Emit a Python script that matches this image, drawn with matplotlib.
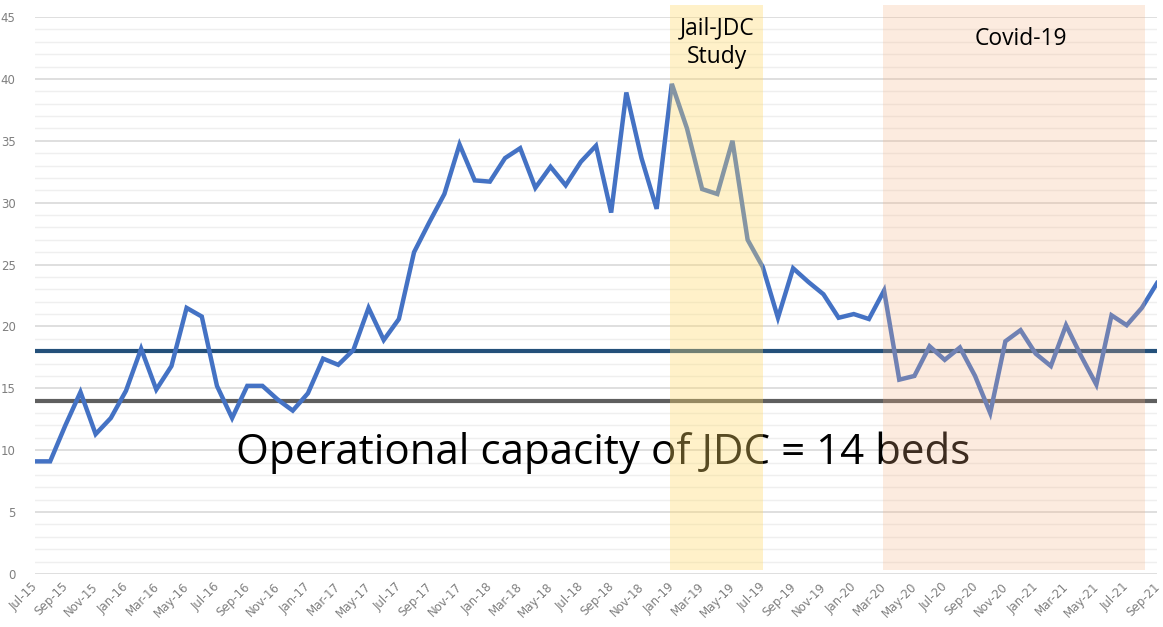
import numpy as np
import matplotlib
matplotlib.use('Agg')
import matplotlib.pyplot as plt
from matplotlib.patches import Rectangle
from matplotlib.ticker import MultipleLocator

# monthly counts, Jul-15 .. Sep-21
months = ['Jul', 'Aug', 'Sep', 'Oct', 'Nov', 'Dec', 'Jan', 'Feb', 'Mar', 'Apr', 'May', 'Jun']
labels = []
for k in range(75):
    m = months[k % 12]
    yr = 15 + (k + 6) // 12
    labels.append(f'{m}-{yr}')

values = [9.1, 9.1, 12.0, 14.7, 11.3, 12.6, 14.8, 18.2, 14.9, 16.8,
          21.5, 20.8, 15.2, 12.6, 15.2, 15.2, 14.1, 13.2, 14.6, 17.4,
          16.9, 18.1, 21.5, 18.9, 20.6, 26.0, 28.4, 30.7, 34.7, 31.8,
          31.7, 33.6, 34.4, 31.2, 32.9, 31.4, 33.3, 34.6, 29.2, 38.9,
          33.6, 29.5, 39.6, 36.0, 31.1, 30.7, 35.0, 27.0, 24.8, 20.7,
          24.7, 23.6, 22.6, 20.7, 21.0, 20.6, 22.9, 15.7, 16.0, 18.4,
          17.3, 18.3, 16.0, 13.0, 18.8, 19.7, 17.8, 16.8, 20.1, 17.6,
          15.3, 20.9, 20.1, 21.5, 23.5]

threshold_line = 18
capacity = 14
study_span = (41.9, 48.0)
covid_span = (55.9, 73.2)

W, H = 1163, 627
fig = plt.figure(figsize=(W / 100, H / 100), dpi=100)
ax = fig.add_axes([35 / W, 1 - 574 / H, (1157 - 35) / W, (574 - 17) / H])

x = np.arange(len(values))
ax.plot(x, values, color='#4472C4', lw=3.2, zorder=3, solid_joinstyle='miter')
ax.axhline(threshold_line, color='#24507A', lw=3, zorder=2)
ax.axhline(capacity, color='#5F5F5F', lw=3, zorder=2)

ax.text(37.5, 9.8, 'Operational capacity of JDC = 14 beds', fontsize=30.3,
        family='Open Sans', ha='center', va='center', zorder=4)

# shaded periods drawn on top, semi-transparent
ax.add_patch(Rectangle((study_span[0], 0.35), study_span[1] - study_span[0], 45.6,
                       facecolor='#FFD966', alpha=0.35, lw=0, zorder=5, clip_on=False))
ax.add_patch(Rectangle((covid_span[0], 0.35), covid_span[1] - covid_span[0], 45.6,
                       facecolor='#F4B183', alpha=0.25, lw=0, zorder=5, clip_on=False))
ax.text(45.0, 42.9, 'Jail-JDC\nStudy', fontsize=16.5, family='Open Sans',
        ha='center', va='center', linespacing=1.25, zorder=6)
ax.text(65.0, 43.2, 'Covid-19', fontsize=16.5, family='Open Sans',
        ha='center', va='center', zorder=6)

ax.set_xlim(0, 74)
ax.set_ylim(0, 45)
ax.yaxis.set_major_locator(MultipleLocator(5))
ax.yaxis.set_minor_locator(MultipleLocator(1))
ax.grid(which='major', axis='y', color='#D9D9D9', lw=1.2)
ax.grid(which='minor', axis='y', color='#EFEFEF', lw=1.0)
ax.set_axisbelow(True)
for s in ax.spines.values():
    s.set_visible(False)

# rotated month labels every second month, nudged left so the last one fits
ax.set_xticks(x[::2])
ax.set_xticklabels([])
for xi in x[::2]:
    ax.annotate(labels[xi], xy=(xi, 0), xycoords=('data', 'axes fraction'),
                xytext=(-4, -6), textcoords='offset pixels', rotation=45,
                ha='right', va='top', rotation_mode='anchor',
                fontsize=8.5, color='#7F7F7F')
ax.tick_params(axis='y', which='both', length=0, labelsize=8.5, labelcolor='#7F7F7F', pad=14)
ax.tick_params(axis='x', length=0)

fig.savefig('out.png', dpi=100)
